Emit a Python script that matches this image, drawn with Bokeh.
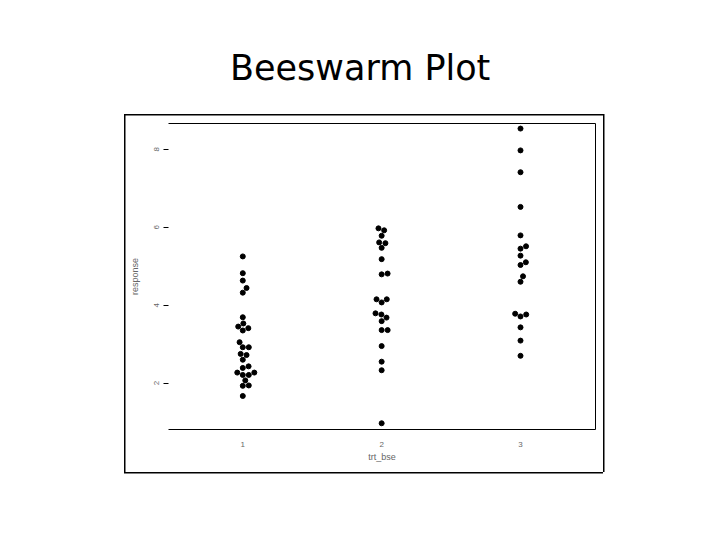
import numpy as np
from bokeh.plotting import figure
from bokeh.models import (ColumnDataSource, Range1d, FixedTicker, LinearAxis, Title)
from bokeh.embed import file_html
from bokeh.resources import INLINE

# ---- data ----
groups = [1, 2, 3]
group_labels = ["1", "2", "3"]
response_1 = [5.25, 4.82, 4.63, 4.44, 4.32, 3.69, 3.53, 3.41, 3.45, 3.35, 3.05,
              2.92, 2.92, 2.75, 2.72, 2.60, 2.43, 2.39, 2.27, 2.21, 2.21, 2.27,
              2.07, 1.93, 1.94, 1.67]
response_2 = [5.97, 5.92, 5.78, 5.61, 5.59, 5.47, 5.18, 4.79, 4.81, 4.15, 4.15,
              4.07, 3.79, 3.76, 3.68, 3.59, 3.36, 3.36, 2.95, 2.55, 2.33, 0.97]
response_3 = [8.53, 7.97, 7.41, 6.52, 5.79, 5.45, 5.51, 5.27, 5.10, 5.03, 4.74,
              4.60, 3.76, 3.71, 3.78, 3.43, 3.09, 2.70]
y_ticks = [2, 4, 6, 8]
title_text = "Beeswarm Plot"
x_label = "trt_bse"
y_label = "response"

# ---- layout ----
W, H = 712, 532
BL, BR, BT, BB = 168, 117, 123, 103
frame_w = W - BL - BR
frame_h = H - BT - BB
x_range = Range1d(0.465, 3.54)
y_range = Range1d(0.81, 8.66)
px_per_x = frame_w / (x_range.end - x_range.start)
px_per_y = frame_h / (y_range.end - y_range.start)
spacing_px = 6.0


def swarm(values):
    """R beeswarm 'swarm' layout, priority ascending; returns x offsets in px."""
    v = np.asarray(values, dtype=float)
    order = np.argsort(v, kind="stable")
    ys = v[order] * px_per_y / spacing_px
    xs = np.zeros(len(ys))
    for i in range(1, len(ys)):
        pre_y = ys[:i]
        pre_x = xs[:i]
        near = np.abs(pre_y - ys[i]) < 1
        if not near.any():
            xs[i] = 0.0
            continue
        py, pxx = pre_y[near], pre_x[near]
        off = np.sqrt(1 - (ys[i] - py) ** 2)
        cand = np.concatenate([[0.0], pxx + off, pxx - off])
        bad = np.array([np.any((c - pxx) ** 2 + (ys[i] - py) ** 2 < 0.999) for c in cand])
        cand[bad] = np.inf
        xs[i] = cand[np.argmin(np.abs(cand))]
    out = np.zeros(len(ys))
    out[order] = xs * spacing_px
    return out


xs, ys = [], []
for g, vals in zip(groups, [response_1, response_2, response_3]):
    offs = swarm(vals)
    xs.extend(list(g + offs / px_per_x))
    ys.extend(vals)
src = ColumnDataSource(dict(x=xs, y=ys))

# thin frame round the embedded picture, painted as the page background
box_l, box_t, box_w, box_h, lw = 124, 114, 479, 358, 1.5
frame_css = {
    "background-color": "white",
    "background-image": ", ".join(["linear-gradient(#000, #000)"] * 4),
    "background-repeat": "no-repeat",
    "background-size": f"{box_w}px {lw}px, {box_w}px {lw}px, {lw}px {box_h}px, {lw}px {box_h}px",
    "background-position": (f"{box_l}px {box_t}px, {box_l}px {box_t + box_h}px, "
                            f"{box_l}px {box_t}px, {box_l + box_w}px {box_t}px"),
}

p = figure(width=W, height=H, output_backend="svg", toolbar_location=None,
           x_range=x_range, y_range=y_range,
           min_border_left=BL, min_border_right=BR, min_border_top=BT,
           min_border_bottom=BB, styles=frame_css)
p.outline_line_color = None
p.xgrid.visible = False
p.ygrid.visible = False
p.background_fill_color = None
p.border_fill_color = None

p.scatter("x", "y", source=src, size=5, color="black")

tick_font = "Liberation Sans"
lab_color = "#666666"

# x axis
xa = p.xaxis[0]
xa.ticker = FixedTicker(ticks=groups)
xa.major_label_overrides = {g: s for g, s in zip(groups, group_labels)}
xa.major_tick_line_color = None
xa.minor_tick_line_color = None
xa.axis_line_color = "black"
xa.axis_line_width = 1
xa.major_label_standoff = 6
xa.major_label_text_font = tick_font
xa.major_label_text_font_size = "8px"
xa.major_label_text_color = lab_color
xa.axis_label = x_label
xa.axis_label_text_font = tick_font
xa.axis_label_text_font_style = "normal"
xa.axis_label_text_font_size = "9px"
xa.axis_label_text_color = lab_color
xa.axis_label_standoff = 2

# y axis
ya = p.yaxis[0]
ya.ticker = FixedTicker(ticks=y_ticks)
ya.axis_line_color = None
ya.minor_tick_line_color = None
ya.major_tick_line_color = "black"
ya.major_tick_in = 0
ya.major_tick_out = 5
ya.major_label_orientation = "vertical"
ya.major_label_standoff = 4
ya.major_label_text_font = tick_font
ya.major_label_text_font_size = "8px"
ya.major_label_text_color = lab_color
ya.axis_label = y_label
ya.axis_label_text_font = tick_font
ya.axis_label_text_font_style = "normal"
ya.axis_label_text_font_size = "9px"
ya.axis_label_text_color = lab_color
ya.axis_label_standoff = 12

# box lines (top and right)
for side in ["above", "right"]:
    ax = LinearAxis(ticker=FixedTicker(ticks=[]), axis_line_color="black",
                    major_tick_line_color=None, minor_tick_line_color=None,
                    major_label_text_color=None)
    p.add_layout(ax, side)

# slide title
p.add_layout(Title(text=title_text, align="left", offset=61.5, standoff=72,
                   text_font="DejaVu Sans", text_font_size="35px",
                   text_font_style="normal", text_color="black"), "above")

open("out.html", "w").write(file_html(p, INLINE))
